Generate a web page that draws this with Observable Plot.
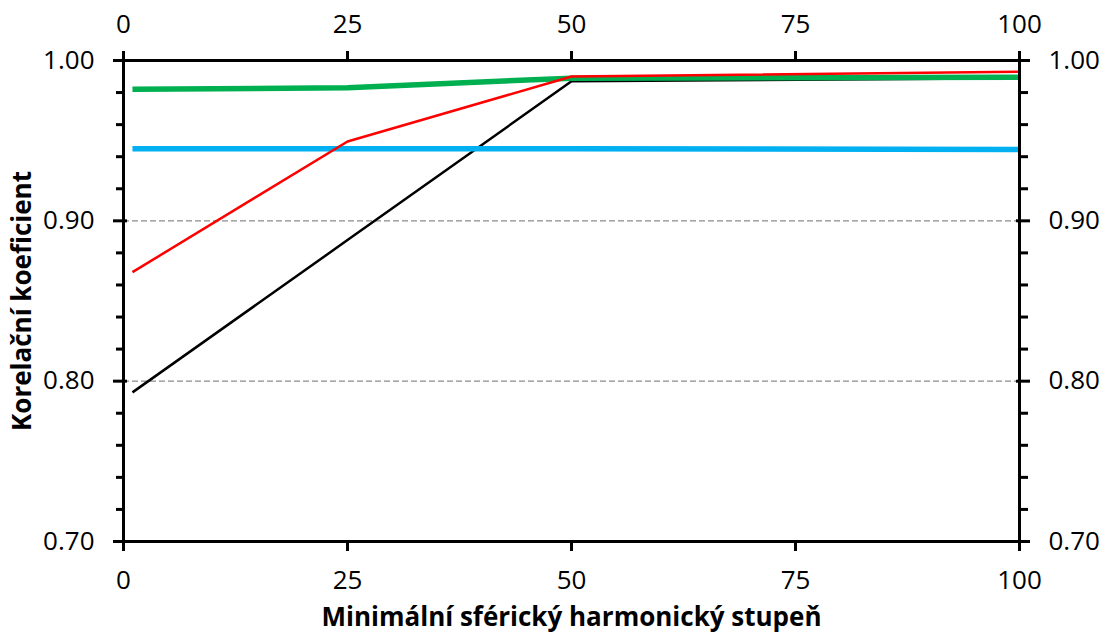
<!DOCTYPE html>
<html>
<head>
<meta charset="utf-8">
<script src="https://cdn.jsdelivr.net/npm/d3@7"></script>
<script src="https://cdn.jsdelivr.net/npm/@observablehq/plot@0.6"></script>
<style>
  html, body { margin: 0; padding: 0; background: #fff; }
  #chart svg { display: block; }
</style>
</head>
<body>
<div id="chart"></div>
<script>
// ---- data ----
const degrees = [1, 25, 50, 100];
const blackValues = [0.793, 0.888, 0.987, 0.989];
const blueValues = [0.945, 0.945, 0.945, 0.9445];
const greenValues = [0.982, 0.983, 0.989, 0.9895];
const redValues = [0.868, 0.9495, 0.990, 0.993];
const seriesNames = ["black", "blue", "green", "red"];
const xTicks = [0, 25, 50, 75, 100];
const yMajorTicks = [0.70, 0.80, 0.90, 1.00];
const yMinorTicks = [0.72, 0.74, 0.76, 0.78, 0.82, 0.84, 0.86, 0.88, 0.92, 0.94, 0.96, 0.98];
const gridValues = [0.80, 0.90];
const xTitle = "Minimální sférický harmonický stupeň";
const yTitle = "Korelační koeficient";

// ---- build table ----
const valuesBySeries = {black: blackValues, blue: blueValues, green: greenValues, red: redValues};
const styles = {
  black: {stroke: "#000000", width: 2.5},
  blue: {stroke: "#00b0f0", width: 5.5},
  green: {stroke: "#00b050", width: 5.5},
  red: {stroke: "#ff0000", width: 2.5}
};
const rows = seriesNames.flatMap(s => degrees.map((d, i) => ({series: s, degree: d, value: valuesBySeries[s][i]})));

const fmt = d3.format(".2f");
const tickFont = 26;
const axisW = 3;

const lineMarks = seriesNames.map(s => Plot.line(rows.filter(r => r.series === s), {
  x: "degree", y: "value", stroke: styles[s].stroke, strokeWidth: styles[s].width,
  strokeLinejoin: "round", strokeLinecap: "butt"
}));

const chart = Plot.plot({
  width: 1102,
  height: 640,
  marginLeft: 123,
  marginRight: 83,
  marginTop: 60,
  marginBottom: 99,
  style: {fontFamily: "'Open Sans', sans-serif", color: "#000", background: "#fff", overflow: "visible"},
  x: {domain: [0, 100], axis: null},
  y: {domain: [0.70, 1.00], axis: null},
  marks: [
    // dashed grid
    Plot.ruleY(gridValues, {stroke: "#8c8c8c", strokeWidth: 1.3, strokeDasharray: "6,3"}),
    // data lines
    ...lineMarks,
    // frame lines
    Plot.ruleX([0, 100], {stroke: "#000", strokeWidth: axisW, strokeLinecap: "square"}),
    Plot.ruleY([0.70, 1.00], {stroke: "#000", strokeWidth: axisW, strokeLinecap: "square"}),
    // left ticks
    Plot.axisY(yMajorTicks, {anchor: "left", tickSize: 14, dx: 4, fill: "none", label: null, strokeWidth: axisW}),
    Plot.axisY(yMinorTicks, {anchor: "left", tickSize: 7, fill: "none", label: null, strokeWidth: axisW}),
    Plot.axisY(yMajorTicks, {anchor: "left", tickSize: 0, tickPadding: 29, tickFormat: fmt, fontSize: tickFont, label: null}),
    // right ticks
    Plot.axisY(yMajorTicks, {anchor: "right", tickSize: 14, dx: -4, fill: "none", label: null, strokeWidth: axisW}),
    Plot.axisY(yMinorTicks, {anchor: "right", tickSize: 8, fill: "none", label: null, strokeWidth: axisW}),
    Plot.axisY(yMajorTicks, {anchor: "right", tickSize: 0, tickPadding: 29, tickFormat: fmt, fontSize: tickFont, label: null}),
    // bottom & top x ticks
    Plot.axisX(xTicks, {anchor: "bottom", tickSize: 10, fill: "none", label: null, strokeWidth: axisW}),
    Plot.axisX(xTicks, {anchor: "bottom", tickSize: 0, tickPadding: 29, fontSize: tickFont, label: null}),
    Plot.axisX(xTicks, {anchor: "top", tickSize: 10, fill: "none", label: null, strokeWidth: axisW}),
    Plot.axisX(xTicks, {anchor: "top", tickSize: 0, tickPadding: 28, fontSize: tickFont, label: null}),
    // titles
    Plot.text([xTitle], {text: d => d, frameAnchor: "bottom", dy: 76, fontSize: 26, fontWeight: "bold", lineAnchor: "middle", textAnchor: "middle"}),
    Plot.text([yTitle], {text: d => d, frameAnchor: "left", dx: -101, rotate: -90, fontSize: 26, fontWeight: "bold", lineAnchor: "middle", textAnchor: "middle"})
  ]
});
document.getElementById("chart").append(chart);
</script>
</body>
</html>
